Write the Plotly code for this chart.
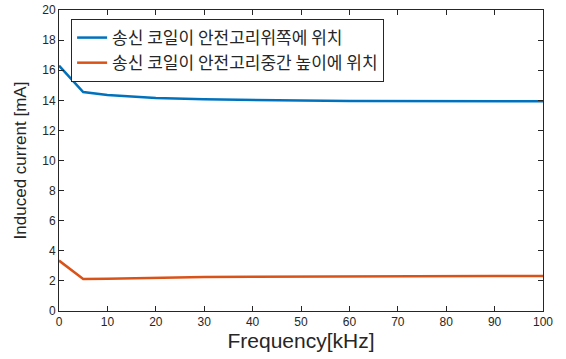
import plotly.graph_objects as go

freq = [0, 5, 10, 20, 30, 40, 50, 60, 70, 80, 90, 100]
top_current = [16.3, 14.55, 14.35, 14.15, 14.07, 14.01, 13.98, 13.96, 13.94, 13.92, 13.92, 13.93]
mid_current = [3.35, 2.12, 2.15, 2.22, 2.26, 2.28, 2.30, 2.31, 2.32, 2.33, 2.33, 2.33]
names = ["송신 코일이 안전고리위쪽에 위치", "송신 코일이 안전고리중간 높이에 위치"]
colors = ["#0072BD", "#D95319"]
xticks = list(range(0, 101, 10))
yticks = list(range(0, 21, 2))

fig = go.Figure()
for ys, nm, c in zip([top_current, mid_current], names, colors):
    fig.add_trace(go.Scatter(x=freq, y=ys, mode="lines", name=nm,
                             line=dict(color=c, width=2.5)))

axis_common = dict(showline=True, linecolor="#262626", linewidth=1, mirror="ticks",
                   ticks="inside", ticklen=5, tickcolor="#262626", showgrid=False,
                   zeroline=False, tickfont=dict(family="Liberation Sans, Arial", size=12, color="#262626"))
fig.update_xaxes(range=[0, 100], tickvals=xticks, **axis_common,
                 title=dict(text="Frequency[kHz]", font=dict(family="Liberation Sans, Arial", size=21, color="#262626"), standoff=3))
fig.update_yaxes(range=[0, 20], tickvals=yticks, **axis_common,
                 title=dict(text="Induced current [mA]", font=dict(family="Liberation Sans, Arial", size=17, color="#262626"), standoff=11))
fig.update_layout(
    width=566, height=359,
    margin=dict(l=59, r=23, t=10, b=48, autoexpand=False),
    paper_bgcolor="white", plot_bgcolor="white",
    legend=dict(x=0.025, y=0.97, xanchor="left", yanchor="top",
                bordercolor="#262626", borderwidth=1, bgcolor="white",
                font=dict(family="Noto Sans CJK KR", size=17, color="#262626"),
                tracegroupgap=0, itemwidth=30),
    showlegend=True,
)
fig.write_html("out.html", config={"displayModeBar": False},
               post_script="document.body.style.margin='0';")
